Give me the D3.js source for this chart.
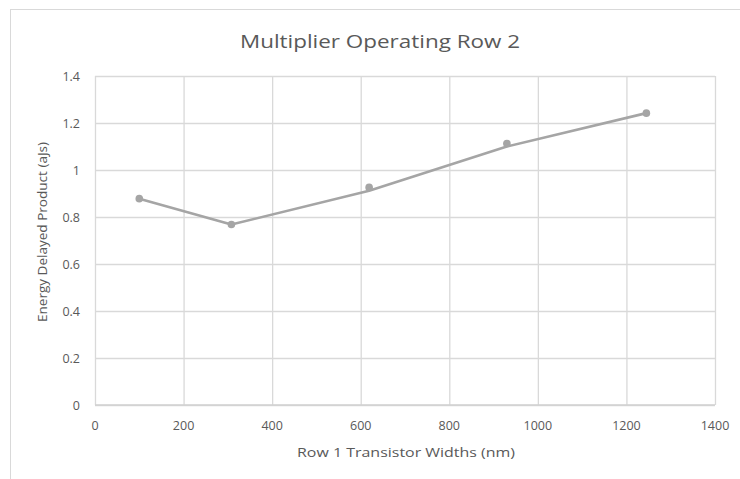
<!DOCTYPE html>
<html>
<head>
<meta charset="utf-8">
<script src="https://cdn.jsdelivr.net/npm/d3@7"></script>
<style>
  html, body { margin: 0; padding: 0; background: #fff; }
  svg { display: block; }
  text { font-family: "Open Sans", "Liberation Sans", sans-serif; fill: #595959; }
</style>
</head>
<body>
<svg id="chart" width="740" height="479"></svg>
<script>
// Row 1 transistor widths (nm)
const widths = [100, 308, 619, 930, 1245];
// Energy-delay product at each width (aJs), marker series
const edpMarkers = [0.878, 0.768, 0.926, 1.113, 1.242];
// Connecting line series
const edpLine = [0.878, 0.768, 0.912, 1.100, 1.242];

const xTicks = [0, 200, 400, 600, 800, 1000, 1200, 1400];
const yTicks = [0, 0.2, 0.4, 0.6, 0.8, 1, 1.2, 1.4];

const titleText = "Multiplier Operating Row 2";
const xTitle = "Row 1 Transistor Widths (nm)";
const yTitle = "Energy Delayed Product (aJs)";

const svg = d3.select("#chart");
const plot = { left: 95, right: 715, top: 76, bottom: 405 };

const x = d3.scaleLinear().domain([0, 1400]).range([plot.left, plot.right]);
const y = d3.scaleLinear().domain([0, 1.4]).range([plot.bottom, plot.top]);

// Chart area border
svg.append("rect")
  .attr("x", 10.5).attr("y", 9.5)
  .attr("width", 760).attr("height", 480)
  .attr("fill", "none").attr("stroke", "#d9d9d9").attr("stroke-width", 1);

// Gridlines
svg.append("g")
  .attr("transform", `translate(0,${plot.bottom})`)
  .call(d3.axisBottom(x).tickValues(xTicks).tickSize(-(plot.bottom - plot.top)).tickFormat(""))
  .call(g => g.select(".domain").remove())
  .call(g => g.selectAll("line").attr("stroke", "#d9d9d9").attr("stroke-width", 1.3));

svg.append("g")
  .attr("transform", `translate(${plot.left},0)`)
  .call(d3.axisLeft(y).tickValues(yTicks).tickSize(-(plot.right - plot.left)).tickFormat(""))
  .call(g => g.select(".domain").remove())
  .call(g => g.selectAll("line").attr("stroke", "#d9d9d9").attr("stroke-width", 1.3));

// Bottom axis line
svg.append("line")
  .attr("x1", plot.left).attr("x2", plot.right)
  .attr("y1", y(0)).attr("y2", y(0))
  .attr("stroke", "#d0d0d0").attr("stroke-width", 1.5);

// Tick labels
svg.append("g")
  .selectAll("text").data(xTicks).join("text")
  .attr("x", d => x(d)).attr("y", 430)
  .attr("text-anchor", "middle")
  .attr("font-size", 12.5)
  .text(d => d);

svg.append("g")
  .selectAll("text").data(yTicks).join("text")
  .attr("x", 80).attr("y", d => y(d) + 4.5)
  .attr("text-anchor", "end")
  .attr("font-size", 12.5)
  .text(d => d3.format("~g")(d));

// Series line
const line = d3.line().x((d, i) => x(widths[i])).y(d => y(d));
svg.append("path")
  .datum(edpLine)
  .attr("d", line)
  .attr("fill", "none")
  .attr("stroke", "#a5a5a5")
  .attr("stroke-width", 2.6)
  .attr("stroke-linejoin", "round");

// Markers
svg.append("g")
  .selectAll("circle").data(edpMarkers).join("circle")
  .attr("cx", (d, i) => x(widths[i]))
  .attr("cy", d => y(d))
  .attr("r", 3.8)
  .attr("fill", "#a5a5a5");

// Titles
svg.append("text")
  .attr("x", 380).attr("y", 48)
  .attr("text-anchor", "middle")
  .attr("font-size", 18.5)
  .attr("textLength", 280).attr("lengthAdjust", "spacingAndGlyphs")
  .text(titleText);

svg.append("text")
  .attr("x", 406).attr("y", 457)
  .attr("text-anchor", "middle")
  .attr("font-size", 13.3)
  .attr("textLength", 218).attr("lengthAdjust", "spacingAndGlyphs")
  .text(xTitle);

svg.append("text")
  .attr("transform", "translate(47,232) rotate(-90)")
  .attr("text-anchor", "middle")
  .attr("font-size", 13.3)
  .attr("textLength", 180).attr("lengthAdjust", "spacingAndGlyphs")
  .text(yTitle);
</script>
</body>
</html>
